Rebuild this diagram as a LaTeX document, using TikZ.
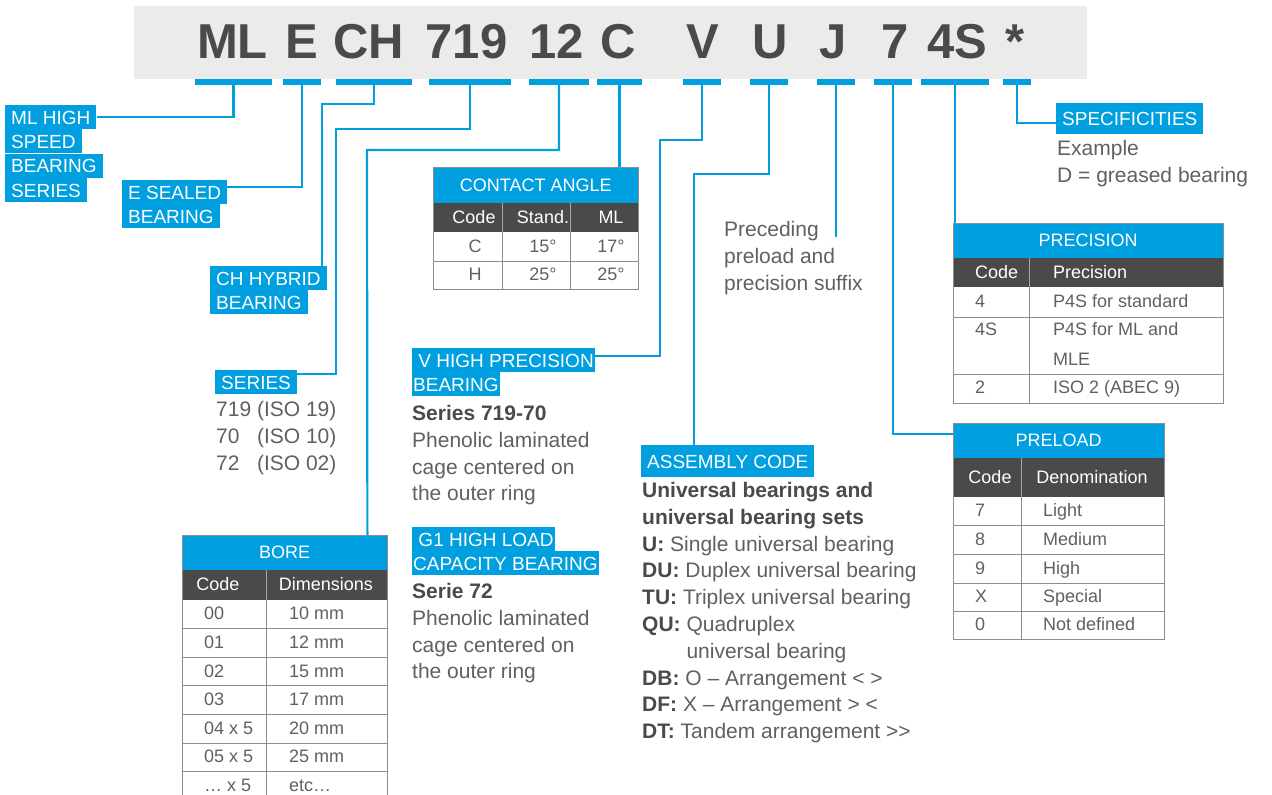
\documentclass[tikz,border=0pt]{standalone}
\usepackage{fontspec}
\setmainfont{Liberation Sans}
\usetikzlibrary{positioning, calc}
\definecolor{skfblue}{HTML}{009FE0}
\definecolor{bargray}{HTML}{EBEBEB}
\definecolor{dkgray}{HTML}{4A4A4A}
\definecolor{txtgray}{HTML}{606060}
\definecolor{rulegray}{HTML}{8C8C8C}
\definecolor{divgray}{HTML}{A8A8A8}

\newcommand{\codefont}{\fontsize{49}{50}\selectfont\bfseries}
\newcommand{\tagfont}{\fontsize{19}{23}\selectfont}
\newcommand{\bodyfont}{\fontsize{21}{26.8}\selectfont}
\newcommand{\cellfont}{\fontsize{18}{22}\selectfont}
\newcommand{\hb}[1]{\textcolor{dkgray}{\textbf{#1}}}

\tikzset{
  link/.style={skfblue, line width=2.2pt},
  bar/.style={fill=skfblue, minimum height=6pt, inner sep=0pt},
  codetxt/.style={text=dkgray, font=\codefont, anchor=base},
  tag/.style={fill=skfblue, text=white, font=\tagfont, inner xsep=6pt, inner ysep=0pt, minimum height=24pt, text height=16pt, text depth=2pt, anchor=west},
  tagline/.style={tag, anchor=north west},
  body/.style={text=txtgray, font=\bodyfont, align=left, inner sep=0pt, anchor=north west},
  tabtitle/.style={fill=skfblue, text=white, font=\cellfont, inner sep=0pt, anchor=north west},
  cell/.style={text=txtgray, font=\cellfont, inner sep=0pt, text height=14pt, text depth=3pt},
  hcell/.style={cell, text=white},
  tabrule/.style={rulegray, line width=1pt},
}

\begin{document}
\begin{tikzpicture}[x=1pt, y=-1pt]
\useasboundingbox (0,0) rectangle (1272,795);
\clip (0,0) rectangle (1272,795);

% Designation bar
\fill[bargray] (134,6) rectangle (1087,79);
\node[codetxt] (cML) at (232.5,58) {ML};
\node[codetxt] (cE) at (301.5,58) {E};
\node[codetxt] (cCH) at (369,58) {CH};
\node[codetxt] (c719) at (466.5,58) {719};
\node[codetxt] (c12) at (557,58) {12};
\node[codetxt] (cC) at (618,58) {C};
\node[codetxt] (cV) at (702.5,58) {V};
\node[codetxt] (cU) at (770,58) {U};
\node[codetxt] (cJ) at (833.5,58) {J};
\node[codetxt] (c7) at (895.5,58) {7};
\node[codetxt] (c4S) at (957.5,58) {4S};
\node[codetxt] (cSt) at (1015.5,58) {*};

% Blue marks under each code
\node[bar, minimum width=77pt] (bML) at (233.5,82) {};
\node[bar, minimum width=38pt] (bE) at (302,82) {};
\node[bar, minimum width=76pt] (bCH) at (374,82) {};
\node[bar, minimum width=82pt] (b719) at (470,82) {};
\node[bar, minimum width=60pt] (b12) at (559,82) {};
\node[bar, minimum width=45pt] (bC) at (619.5,82) {};
\node[bar, minimum width=38pt] (bV) at (702,82) {};
\node[bar, minimum width=38pt] (bU) at (769,82) {};
\node[bar, minimum width=38pt] (bJ) at (836,82) {};
\node[bar, minimum width=38pt] (b7) at (893,82) {};
\node[bar, minimum width=68pt] (b4S) at (955,82) {};
\node[bar, minimum width=28pt] (bSt) at (1017,82) {};

% Left labels
\node[tag] (ml1) at (5,117) {ML HIGH};
\node[tagline] (ml2) at (ml1.south west) {SPEED};
\node[tagline] (ml3) at (ml2.south west) {BEARING};
\node[tagline] (ml4) at (ml3.south west) {SERIES};

\node[tag] (e1) at (122,192) {E SEALED};
\node[tagline] (e2) at (e1.south west) {BEARING};

\node[tag] (ch1) at (210,278) {CH HYBRID};
\node[tagline] (ch2) at (ch1.south west) {BEARING};

\node[tag] (ser) at (215,382) {SERIES};
\node[body] (serlist) at (216,401) {719 (ISO 19)\\70\phantom{9} (ISO 10)\\72\phantom{9} (ISO 02)};

% Cage labels
\node[tag, inner xsep=1pt] (v1) at (412,360) {\ V HIGH PRECISION\ };
\node[tagline, inner xsep=1pt] (v2) at (v1.south west) {BEARING};
\node[body] (vtext) at (412,405) {\hb{Series 719-70}\\Phenolic laminated\\cage centered on\\the outer ring};

\node[tag, inner xsep=1pt] (g1) at (412,539) {\ G1 HIGH LOAD\ };
\node[tagline, inner xsep=1pt] (g2) at (g1.south west) {CAPACITY BEARING};
\node[body] (gtext) at (412,583) {\hb{Serie 72}\\Phenolic laminated\\cage centered on\\the outer ring};

% Assembly code
\node[tag, minimum height=32pt] (asm) at (641,461) {ASSEMBLY CODE};
\node[body] (asmtext) at (642,482) {\hb{Universal bearings and}\\\hb{universal bearing sets}\\\hb{U:} Single universal bearing\\\hb{DU:} Duplex universal bearing\\\hb{TU:} Triplex universal bearing\\\hb{QU:} Quadruplex\\\phantom{\textbf{QU:}} universal bearing\\\hb{DB:} O -- Arrangement < >\\\hb{DF:} X -- Arrangement > <\\\hb{DT:} Tandem arrangement {>}{>}};

% Suffix note
\node[body] (pre) at (724,221) {Preceding\\preload and\\precision suffix};
\coordinate (jend) at (836,237);

% Specificities
\node[tag, minimum height=31pt] (spec) at (1056,118.5) {SPECIFICITIES};
\node[body] (spectext) at (1057,140) {Example\\D = greased bearing};

% Contact angle table
\node[tabtitle, minimum width=205pt, minimum height=36pt] (ca) at (433,167) {CONTACT ANGLE};
\fill[dkgray] (433,203) rectangle (638,232);
\draw[divgray] (502,203) -- (502,232) (570,203) -- (570,232);
\draw[tabrule] (433,261) -- (638,261) (502,232) -- (502,289) (570,232) -- (570,289);
\draw[tabrule] (ca.north west) rectangle (638,289);
\node[hcell] (ca-h1) at (474,217.5) {Code};
\node[hcell] (ca-h2) at (543,217.5) {Stand.};
\node[hcell] (ca-h3) at (611,217.5) {ML};
\node[cell] (ca-c1) at (475,246.5) {C};
\node[cell] (ca-c2) at (543,246.5) {15°};
\node[cell] (ca-c3) at (611,246.5) {17°};
\node[cell] (ca-d1) at (475,275) {H};
\node[cell] (ca-d2) at (543,275) {25°};
\node[cell] (ca-d3) at (611,275) {25°};

% Precision table
\node[tabtitle, minimum width=270pt, minimum height=35pt] (prc) at (953,223) {PRECISION};
\fill[dkgray] (953,258) rectangle (1223,287);
\draw[divgray] (1029,258) -- (1029,287);
\draw[tabrule] (953,317) -- (1223,317) (953,374) -- (1223,374) (1029,287) -- (1029,403);
\draw[tabrule] (prc.north west) rectangle (1223,403);
\node[hcell, anchor=west] (prc-h1) at (975,272.5) {Code};
\node[hcell, anchor=west] (prc-h2) at (1053,272.5) {Precision};
\node[cell, anchor=west] (prc-a1) at (975,302) {4};
\node[cell, anchor=west] (prc-a2) at (1053,302) {P4S for standard};
\node[cell, anchor=west] (prc-b1) at (975,330) {4S};
\node[cell, anchor=west] (prc-b2) at (1053,330) {P4S for ML and};
\node[cell, anchor=west] (prc-b3) at (1053,360) {MLE};
\node[cell, anchor=west] (prc-c1) at (975,388) {2};
\node[cell, anchor=west] (prc-c2) at (1053,388) {ISO 2 (ABEC 9)};

% Preload table
\node[tabtitle, minimum width=211pt, minimum height=35pt] (prl) at (953,423) {PRELOAD};
\fill[dkgray] (953,458) rectangle (1164,497);
\draw[divgray] (1021,458) -- (1021,497);
\draw[tabrule] (953,525) -- (1164,525) (953,554) -- (1164,554) (953,583) -- (1164,583) (953,611) -- (1164,611) (1021,497) -- (1021,639);
\draw[tabrule] (prl.north west) rectangle (1164,639);
\node[hcell] (prl-h1) at (990,477.5) {Code};
\node[hcell] (prl-h2) at (1092,477.5) {Denomination};
\node[cell, anchor=west] (prl-a1) at (975,511) {7};
\node[cell, anchor=west] (prl-a2) at (1043,511) {Light};
\node[cell, anchor=west] (prl-b1) at (975,539.5) {8};
\node[cell, anchor=west] (prl-b2) at (1043,539.5) {Medium};
\node[cell, anchor=west] (prl-c1) at (975,568.5) {9};
\node[cell, anchor=west] (prl-c2) at (1043,568.5) {High};
\node[cell, anchor=west] (prl-d1) at (975,597) {X};
\node[cell, anchor=west] (prl-d2) at (1043,597) {Special};
\node[cell, anchor=west] (prl-e1) at (975,625) {0};
\node[cell, anchor=west] (prl-e2) at (1043,625) {Not defined};

% Bore table
\node[tabtitle, minimum width=205pt, minimum height=35pt] (bore) at (182,535) {BORE};
\fill[dkgray] (182,570) rectangle (387,600);
\draw[divgray] (266,570) -- (266,600);
\draw[tabrule] (182,628.6) -- (387,628.6) (182,657.2) -- (387,657.2) (182,685.8) -- (387,685.8) (182,714.4) -- (387,714.4) (182,743) -- (387,743) (182,771.6) -- (387,771.6) (266,600) -- (266,800.2);
\draw[tabrule] (bore.north west) rectangle (387,800.2);
\node[hcell] (bore-h1) at (218,585) {Code};
\node[hcell] (bore-h2) at (326,585) {Dimensions};
\node[cell, anchor=west] (bore-a1) at (204,614.3) {00};
\node[cell, anchor=west] (bore-a2) at (289,614.3) {10 mm};
\node[cell, anchor=west] (bore-b1) at (204,642.9) {01};
\node[cell, anchor=west] (bore-b2) at (289,642.9) {12 mm};
\node[cell, anchor=west] (bore-c1) at (204,671.5) {02};
\node[cell, anchor=west] (bore-c2) at (289,671.5) {15 mm};
\node[cell, anchor=west] (bore-d1) at (204,700.1) {03};
\node[cell, anchor=west] (bore-d2) at (289,700.1) {17 mm};
\node[cell, anchor=west] (bore-e1) at (204,728.7) {04 x 5};
\node[cell, anchor=west] (bore-e2) at (289,728.7) {20 mm};
\node[cell, anchor=west] (bore-f1) at (204,757.3) {05 x 5};
\node[cell, anchor=west] (bore-f2) at (289,757.3) {25 mm};
\node[cell, anchor=west] (bore-g1) at (204,785.9) {… x 5};
\node[cell, anchor=west] (bore-g2) at (289,785.9) {etc…};

% Connectors
\draw[link] (bML.south) |- (ml1.east);
\draw[link] (bE.south) |- ([yshift=5pt]e1.east);
\draw[link] (bCH.south) -- ++(0,19) -| ([xshift=-5pt]ch1.north east);
\draw[link] (b719.south) |- (336,129) |- ([yshift=8pt]ser.east);
\draw[link] (b12.south) |- (367,150) -- ([xshift=-20pt]bore.north east);
\draw[link] (bC.south) -- (bC.south |- ca.north);
\draw[link] (bV.south) |- (660,140) |- ([yshift=4pt]v1.east);
\draw[link] (bU.south) |- (694,174) -- ([xshift=53pt]asm.north west);
\draw[link] (bJ.south) -- (jend);
\draw[link] (b7.south) |- ([yshift=6.5pt]prl.west);
\draw[link] (b4S.south) -- (b4S.south |- prc.north);
\draw[link] (bSt.south) |- ([yshift=-4.5pt]spec.west);

\end{tikzpicture}
\end{document}
